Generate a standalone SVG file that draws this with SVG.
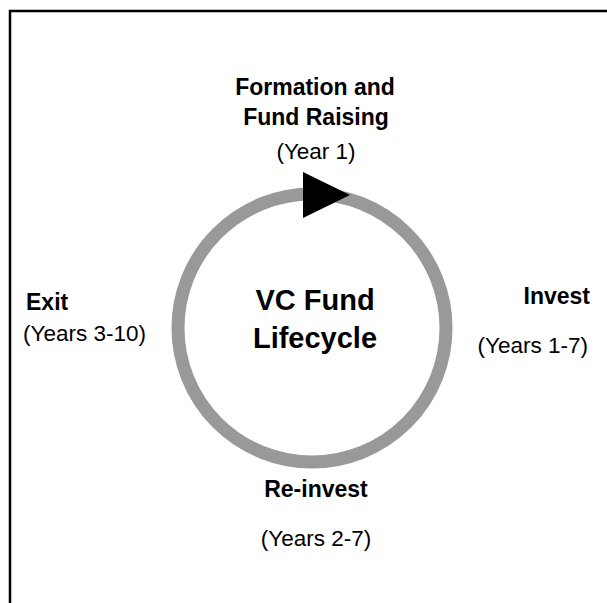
<svg xmlns="http://www.w3.org/2000/svg" width="607" height="603" viewBox="0 0 607 603">
<style>
.b{font-family:"Liberation Sans",Arial,sans-serif;font-weight:bold;font-size:23px;fill:#000}
.r{font-family:"Liberation Sans",Arial,sans-serif;font-size:22.5px;fill:#000}
.c{font-family:"Liberation Sans",Arial,sans-serif;font-weight:bold;font-size:29px;fill:#000}
</style>
<rect width="607" height="603" fill="#fff"/>
<path d="M10,610 V11 H620" fill="none" stroke="#000" stroke-width="2.5"/>
<g id="connectors">
<circle cx="312" cy="328" r="134" fill="none" stroke="#999" stroke-width="13"/>
<polygon points="303,172 303,218 350,195" fill="#000"/>
</g>
<g id="center">
<text class="c" x="315" y="310" text-anchor="middle">VC Fund</text>
<text class="c" x="315" y="348" text-anchor="middle">Lifecycle</text>
</g>
<g id="formation">
<text class="b" x="315" y="95" text-anchor="middle">Formation and</text>
<text class="b" x="316" y="125" text-anchor="middle">Fund Raising</text>
<text class="r" x="316" y="159" text-anchor="middle">(Year 1)</text>
</g>
<g id="invest">
<text class="b" x="590" y="304" text-anchor="end">Invest</text>
<text class="r" x="588" y="353" text-anchor="end">(Years 1-7)</text>
</g>
<g id="reinvest">
<text class="b" x="316" y="497" text-anchor="middle">Re-invest</text>
<text class="r" x="316" y="546" text-anchor="middle">(Years 2-7)</text>
</g>
<g id="exit">
<text class="b" x="26" y="310" text-anchor="start">Exit</text>
<text class="r" x="23" y="341" text-anchor="start">(Years 3-10)</text>
</g>
</svg>
